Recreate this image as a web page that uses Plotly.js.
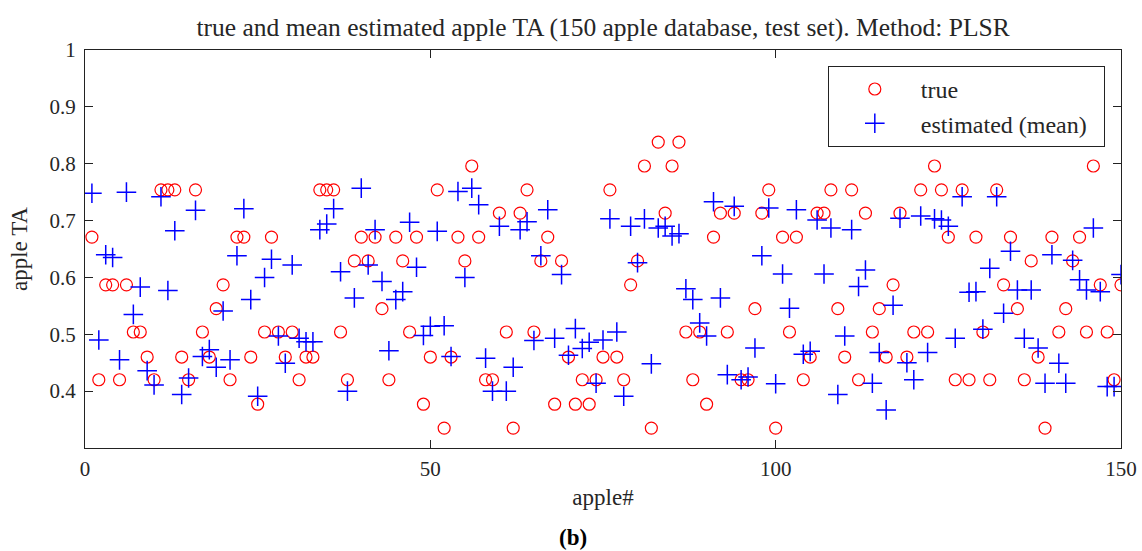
<!DOCTYPE html>
<html>
<head>
<meta charset="utf-8">
<script src="https://cdn.plot.ly/plotly-3.0.1.min.js"></script>
<style>
  html, body { margin: 0; padding: 0; background: #fff; }
  #chart { width: 1142px; height: 551px; }
</style>
</head>
<body>
<div id="chart"></div>
<script>
// Apple index (1..150)
const appleIndex = Array.from({length: 150}, (_, k) => k + 1);

// Reference TA values per apple
const trueTA = [
  0.671, 0.42, 0.587, 0.587, 0.42, 0.587, 0.504, 0.504, 0.46, 0.42,
  0.754, 0.754, 0.754, 0.46, 0.42, 0.754, 0.504, 0.46, 0.545, 0.587,
  0.42, 0.671, 0.671, 0.46, 0.377, 0.504, 0.671, 0.504, 0.46, 0.504,
  0.42, 0.46, 0.46, 0.754, 0.754, 0.754, 0.504, 0.42, 0.629, 0.671,
  0.629, 0.671, 0.545, 0.42, 0.671, 0.629, 0.504, 0.671, 0.377, 0.46,
  0.754, 0.335, 0.46, 0.671, 0.629, 0.796, 0.671, 0.42, 0.42, 0.713,
  0.504, 0.335, 0.713, 0.754, 0.504, 0.629, 0.671, 0.377, 0.629, 0.46,
  0.377, 0.42, 0.377, 0.42, 0.46, 0.754, 0.46, 0.42, 0.587, 0.629,
  0.796, 0.335, 0.838, 0.713, 0.796, 0.838, 0.504, 0.42, 0.504, 0.377,
  0.671, 0.713, 0.504, 0.713, 0.42, 0.42, 0.545, 0.713, 0.754, 0.335,
  0.671, 0.504, 0.671, 0.42, 0.46, 0.713, 0.713, 0.754, 0.545, 0.46,
  0.754, 0.42, 0.713, 0.504, 0.545, 0.46, 0.587, 0.713, 0.46, 0.504,
  0.754, 0.504, 0.796, 0.754, 0.671, 0.42, 0.754, 0.42, 0.671, 0.504,
  0.42, 0.754, 0.587, 0.671, 0.545, 0.42, 0.629, 0.46, 0.335, 0.671,
  0.504, 0.545, 0.629, 0.671, 0.504, 0.796, 0.587, 0.504, 0.42, 0.587
];

// Mean PLSR estimate per apple
const estimatedTA = [
  0.748, 0.49, 0.640, 0.635, 0.455, 0.75, 0.535, 0.583, 0.436, 0.411,
  0.742, 0.577, 0.682, 0.394, 0.423, 0.718, 0.461, 0.473, 0.442, 0.541,
  0.455, 0.638, 0.721, 0.561, 0.391, 0.600, 0.632, 0.497, 0.449, 0.622,
  0.493, 0.487, 0.487, 0.684, 0.694, 0.721, 0.610, 0.40, 0.564, 0.757,
  0.622, 0.684, 0.593, 0.471, 0.561, 0.575, 0.697, 0.618, 0.498, 0.514,
  0.681, 0.515, 0.461, 0.751, 0.600, 0.757, 0.728, 0.458, 0.40, 0.690,
  0.40, 0.442, 0.684, 0.698, 0.489, 0.638, 0.719, 0.493, 0.605, 0.463,
  0.510, 0.475, 0.486, 0.414, 0.490, 0.703, 0.504, 0.391, 0.690, 0.626,
  0.703, 0.448, 0.687, 0.690, 0.673, 0.677, 0.58, 0.561, 0.52, 0.497,
  0.733, 0.564, 0.429, 0.725, 0.42, 0.425, 0.476, 0.638, 0.722, 0.413,
  0.606, 0.546, 0.719, 0.465, 0.47, 0.701, 0.606, 0.687, 0.394, 0.497,
  0.684, 0.584, 0.613, 0.414, 0.468, 0.367, 0.551, 0.704, 0.45, 0.42,
  0.708, 0.468, 0.703, 0.701, 0.69, 0.493, 0.742, 0.574, 0.575, 0.509,
  0.616, 0.742, 0.537, 0.646, 0.578, 0.493, 0.578, 0.476, 0.414, 0.64,
  0.449, 0.414, 0.63, 0.596, 0.578, 0.687, 0.575, 0.408, 0.408, 0.605
];

const xTicks = [0, 50, 100, 150];
const yTicks = [0.4, 0.5, 0.6, 0.7, 0.8, 0.9, 1];
const yTickText = ['0.4', '0.5', '0.6', '0.7', '0.8', '0.9', '1'];

const serif = 'Liberation Serif, Times New Roman, serif';
const textColor = '#262626';

const traces = [
  {
    type: 'scatter', mode: 'markers', name: 'true',
    x: appleIndex, y: trueTA,
    marker: {symbol: 'circle-open', size: 12, color: '#ff0000', line: {width: 1.2, color: '#ff0000'}}
  },
  {
    type: 'scatter', mode: 'markers', name: 'estimated (mean)\u00a0\u00a0',
    x: appleIndex, y: estimatedTA,
    marker: {symbol: 'cross-thin-open', size: 14, color: '#0000ff', line: {width: 1.5, color: '#0000ff'}}
  }
];

const axisCommon = {
  showline: true, linecolor: '#222', linewidth: 1, mirror: 'ticks',
  ticks: 'inside', ticklen: 8, tickcolor: '#222', tickwidth: 1,
  showgrid: false, zeroline: false,
  tickfont: {family: serif, size: 21, color: textColor}
};

const layout = {
  width: 1142, height: 551,
  margin: {l: 85, r: 21, t: 50, b: 103},
  paper_bgcolor: '#fff', plot_bgcolor: '#fff',
  title: {
    text: 'true and mean estimated apple TA (150 apple database, test set). Method: PLSR',
    font: {family: serif, size: 25.5, color: textColor},
    x: 0.5281, xanchor: 'center', y: 0.95, yanchor: 'middle'
  },
  xaxis: Object.assign({}, axisCommon, {
    range: [0, 150], tickvals: xTicks, ticklabelstandoff: 2,
    title: {text: 'apple#', font: {family: serif, size: 23, color: textColor}, standoff: 8}
  }),
  yaxis: Object.assign({}, axisCommon, {
    range: [0.3, 1], tickvals: yTicks, ticktext: yTickText, ticklabelstandoff: 4,
    title: {text: 'apple TA', font: {family: serif, size: 23, color: textColor}, standoff: 15}
  }),
  showlegend: true,
  legend: {
    x: 0.717, y: 0.96, xanchor: 'left', yanchor: 'top',
    bgcolor: '#fff', bordercolor: '#222', borderwidth: 1,
    font: {family: serif, size: 24, color: textColor},
    itemwidth: 82
  },
  annotations: [{
    text: '<b>(b)</b>', xref: 'paper', yref: 'paper', x: 0.471, y: -0.225,
    xanchor: 'center', yanchor: 'middle', showarrow: false,
    font: {family: serif, size: 23, color: '#000'}
  }]
};

Plotly.newPlot('chart', traces, layout, {displayModeBar: false, staticPlot: true});
</script>
</body>
</html>
